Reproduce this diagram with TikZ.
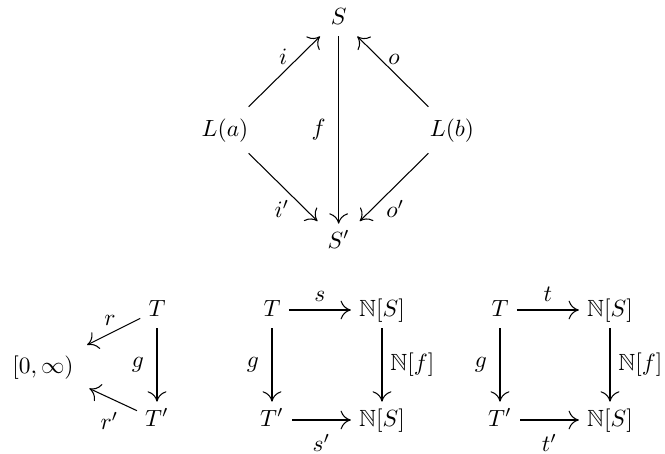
\documentclass[tikz,border=0pt]{standalone}
\usepackage{amsmath,amssymb}
\usepackage{tikz}
\usetikzlibrary{arrows.meta}

\begin{document}
\begin{tikzpicture}[scale=1.0,
  obj/.style={text height=1.6ex, text depth=.4ex},
  mor/.style={line width=0.45pt, -{Computer Modern Rightarrow[length=4.4pt, width=8pt]}},
  diag/.style={mor, shorten <=3pt, shorten >=1.5pt}]
\useasboundingbox (0,0) rectangle (9.975,6.81);
% top diamond
\node[obj] (S) at (5.08,6.54) {$S$};
\node[obj] (Sp) at (5.08,3.18) {$S'$};
\node[obj] (La) at (3.375,4.86) {$L(a)$};
\node[obj] (Lb) at (6.78,4.86) {$L(b)$};
\draw[diag] (La) -- (S) node[midway, above] (li) {$i$};
\draw[diag] (Lb) -- (S) node[midway, above] (lo) {$o$};
\draw[diag] (La) -- (Sp) node[midway, below=2.5pt] (lip) {$i'$};
\draw[diag] (Lb) -- (Sp) node[midway, below=2.5pt] (lop) {$o'$};
\draw[mor] (S) -- (Sp) node[midway, left=2pt] (lf) {$f$};
% triangle into [0,infty)
\node[obj] (Ta) at (2.355,2.16) {$T$};
\node[obj] (Tap) at (2.355,0.51) {$T'$};
\node[obj] (Inf) at (0.645,1.305) {$[0,\infty)$};
\draw[mor, shorten >=3.5pt] (Ta) -- (Inf) node[midway, above] (lr) {$r$};
\draw[mor, shorten >=3.5pt] (Tap) -- (Inf) node[midway, below=2.5pt] (lrp) {$r'$};
\draw[mor] (Ta) -- (Tap) node[midway, left=2pt] (lga) {$g$};
% square for s
\node[obj] (Tb) at (4.08,2.16) {$T$};
\node[obj] (Tbp) at (4.08,0.51) {$T'$};
\node[obj] (Nb) at (5.73,2.16) {$\mathbb{N}[S]$};
\node[obj] (Nbp) at (5.73,0.51) {$\mathbb{N}[S]$};
\draw[mor] (Tb) -- (Nb) node[midway, above] (ls) {$s$};
\draw[mor] (Tbp) -- (Nbp) node[midway, below=2.5pt] (lsp) {$s'$};
\draw[mor] (Tb) -- (Tbp) node[midway, left=2pt] (lgb) {$g$};
\draw[mor] (Nb) -- (Nbp) node[midway, right] (lNb) {$\mathbb{N}[f]$};
% square for t
\node[obj] (Tc) at (7.5,2.16) {$T$};
\node[obj] (Tcp) at (7.5,0.51) {$T'$};
\node[obj] (Nc) at (9.15,2.16) {$\mathbb{N}[S]$};
\node[obj] (Ncp) at (9.15,0.51) {$\mathbb{N}[S]$};
\draw[mor] (Tc) -- (Nc) node[midway, above] (lt) {$t$};
\draw[mor] (Tcp) -- (Ncp) node[midway, below=2.5pt] (ltp) {$t'$};
\draw[mor] (Tc) -- (Tcp) node[midway, left=2pt] (lgc) {$g$};
\draw[mor] (Nc) -- (Ncp) node[midway, right] (lNc) {$\mathbb{N}[f]$};
\end{tikzpicture}
\end{document}
